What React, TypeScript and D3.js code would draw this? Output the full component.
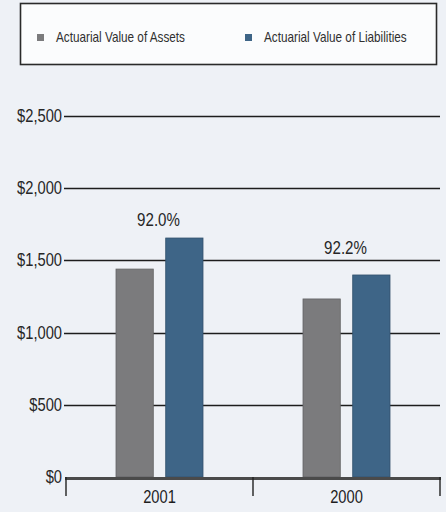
import React, { useEffect, useRef } from 'react';
import * as d3 from 'd3';

const categories = ['2001', '2000'];
const seriesNames = ['Actuarial Value of Assets', 'Actuarial Value of Liabilities'];
const assets = [1440, 1233];
const liabilities = [1655, 1399];
const ratioLabels = ['92.0%', '92.2%'];
const yTicks = [0, 500, 1000, 1500, 2000, 2500];

const W = 446;
const H = 512;
const colors = ['#7b7b7d', '#3e6587'];
const labelLift = [12, 21]; // ratio label distance above the taller bar
const FONT = "'Liberation Sans', Arial, sans-serif";
const SQUEEZE = 0.84; // condensed face look

const App = () => {
    const svgRef = useRef<SVGSVGElement>(null);

    useEffect(() => {
        if (!svgRef.current) return;
        const svg = d3.select(svgRef.current);
        svg.selectAll('*').remove();

        // narrow text helper
        const label = (parent: any, x: number, y: number, str: string, size: number, anchor = 'start', fill = '#262626') =>
            parent.append('text')
                .attr('transform', `translate(${x},${y}) scale(${SQUEEZE},1)`)
                .attr('text-anchor', anchor)
                .attr('font-family', FONT).attr('font-size', size)
                .attr('fill', fill).text(str);

        svg.append('rect').attr('width', W).attr('height', H).attr('fill', '#eef1f6');

        // --- LEGEND ---
        const legend = svg.append('g');
        legend.append('rect')
            .attr('x', 20.5).attr('y', 3.5).attr('width', 416).attr('height', 61)
            .attr('fill', '#fbfcfd').attr('stroke', '#2a2a2a').attr('stroke-width', 1.6);
        const legendX = [37, 245];
        seriesNames.forEach((name, i) => {
            legend.append('rect')
                .attr('x', legendX[i]).attr('y', 34).attr('width', 7).attr('height', 7)
                .attr('fill', colors[i]);
            label(legend, legendX[i] + 19, 42, name, 14, 'start', '#303030');
        });

        // --- SCALES ---
        const x0 = d3.scaleBand().domain(categories).range([66, 440]);
        const x1 = d3.scaleBand().domain(seriesNames).range([50, 137]).paddingInner(0.25).paddingOuter(0);
        const y = d3.scaleLinear().domain([0, 2500]).range([477, 116]);

        // --- GRID + Y LABELS ---
        const grid = svg.append('g');
        yTicks.filter(t => t > 0).forEach(t => {
            grid.append('line')
                .attr('x1', 64).attr('x2', 440)
                .attr('y1', Math.round(y(t)) + 0.5).attr('y2', Math.round(y(t)) + 0.5)
                .attr('stroke', '#1d1d1d').attr('stroke-width', 1.3);
        });
        yTicks.forEach(t => {
            label(grid, 62, y(t) + 6, d3.format('$,')(t), 17.5, 'end');
        });

        // --- BARS ---
        const values = [assets, liabilities];
        categories.forEach((c, ci) => {
            const gx = x0(c) || 0;
            seriesNames.forEach((s, si) => {
                const v = values[si][ci];
                svg.append('rect')
                    .attr('x', gx + (x1(s) || 0)).attr('y', y(v))
                    .attr('width', x1.bandwidth()).attr('height', y(0) - y(v))
                    .attr('fill', colors[si])
                    .attr('stroke', d3.color(colors[si])!.darker(0.6).toString())
                    .attr('stroke-width', 0.8);
            });
            const top = Math.max(assets[ci], liabilities[ci]);
            label(svg, gx + x0.bandwidth() / 2 - 1, y(top) - labelLift[ci], ratioLabels[ci], 18, 'middle');
            label(svg, gx + x0.bandwidth() / 2, 503, c, 17.5, 'middle', '#1e1e1e');
        });

        // --- X AXIS ---
        const axis = svg.append('g');
        axis.append('line')
            .attr('x1', 65).attr('x2', 441).attr('y1', y(0) + 1.5).attr('y2', y(0) + 1.5)
            .attr('stroke', '#4a4a4a').attr('stroke-width', 3);
        const edges = [x0.range()[0], ...categories.map(c => (x0(c) || 0) + x0.bandwidth())];
        edges.forEach(e => {
            axis.append('line')
                .attr('x1', e).attr('x2', e).attr('y1', y(0)).attr('y2', 496)
                .attr('stroke', '#222').attr('stroke-width', 1.4);
        });
    }, []);

    return (
        <div style={{ position: 'fixed', left: 0, top: 0 }}>
            <svg ref={svgRef} width={W} height={H} style={{ display: 'block' }} />
        </div>
    );
};

export default App;
